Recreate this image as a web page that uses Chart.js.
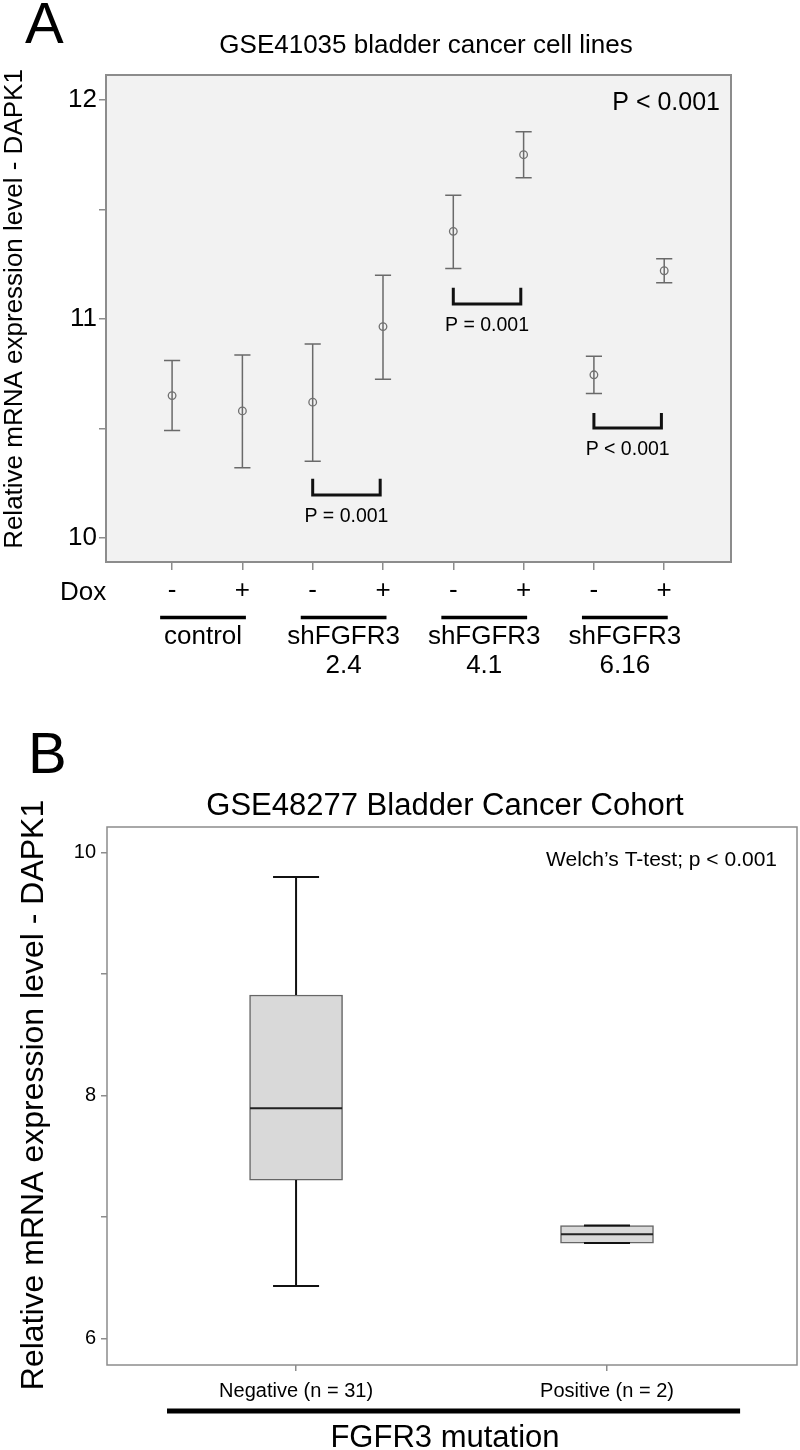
<!DOCTYPE html>
<html>
<head>
<meta charset="utf-8">
<script src="https://cdn.jsdelivr.net/npm/chart.js@4.4.1/dist/chart.umd.min.js"></script>
<style>
  html, body { margin: 0; padding: 0; background: #fff; }
  #wrap { position: relative; width: 800px; height: 1450px; }
  canvas { position: absolute; left: 0; }
  #panelA { top: 0; }
  #panelB { top: 690px; }
</style>
</head>
<body>
<div id="wrap">
  <canvas id="panelA" width="800" height="690"></canvas>
  <canvas id="panelB" width="800" height="760"></canvas>
</div>
<script>
// ---- Panel A: GSE41035 cell lines (mean with error bars) ----
const doxLabels = ['-', '+', '-', '+', '-', '+', '-', '+'];
const groupNames = [['control'], ['shFGFR3', '2.4'], ['shFGFR3', '4.1'], ['shFGFR3', '6.16']];
const meanExpr = [10.65, 10.58, 10.62, 10.965, 11.40, 11.75, 10.745, 11.22];
const upperExpr = [10.81, 10.835, 10.885, 11.20, 11.565, 11.855, 10.83, 11.275];
const lowerExpr = [10.49, 10.32, 10.35, 10.725, 11.23, 11.645, 10.66, 11.165];
const yTickValuesA = [10, 10.5, 11, 11.5, 12];
const yTickLabelsA = ['10', '', '11', '', '12'];
// pairwise comparisons: index of the "-" sample, bracket heights, p values
const pairStart = [2, 4, 6];
const pairTop = [10.27, 11.142, 10.571];
const pairBottom = [10.196, 11.068, 10.502];
const pairP = ['P = 0.001', 'P = 0.001', 'P < 0.001'];

// ---- Panel B: GSE48277 cohort box plot ----
const mutationGroups = ['Negative (n = 31)', 'Positive (n = 2)'];
const boxMin = [6.43, 6.784];
const boxQ1 = [7.303, 6.784];
const boxMedian = [7.896, 6.858];
const boxQ3 = [8.828, 6.929];
const boxMax = [9.80, 6.929];
const yTickValuesB = [6, 7, 8, 9, 10];
const yTickLabelsB = ['6', '', '8', '', '10'];

const FONT = "'Liberation Sans', Arial, Helvetica, sans-serif";
Chart.defaults.font.family = FONT;
Chart.defaults.color = '#000';

function label(ctx, str, x, y, size, align, rotate) {
  ctx.save();
  ctx.font = size + 'px ' + FONT;
  ctx.fillStyle = '#000';
  ctx.textAlign = align || 'left';
  ctx.textBaseline = 'alphabetic';
  ctx.translate(x, y);
  if (rotate) ctx.rotate(-Math.PI / 2);
  ctx.fillText(str, 0, 0);
  ctx.restore();
}

function hline(ctx, x1, x2, y, w) {
  ctx.save();
  ctx.strokeStyle = '#000';
  ctx.lineWidth = w;
  ctx.beginPath();
  ctx.moveTo(x1, y);
  ctx.lineTo(x2, y);
  ctx.stroke();
  ctx.restore();
}

function frame(chart, fill, stroke, w) {
  const { ctx, chartArea: a } = chart;
  ctx.save();
  if (fill) {
    ctx.fillStyle = fill;
    ctx.fillRect(a.left, a.top, a.right - a.left, a.bottom - a.top);
  }
  if (stroke) {
    ctx.strokeStyle = stroke;
    ctx.lineWidth = w;
    ctx.strokeRect(a.left, a.top, a.right - a.left, a.bottom - a.top);
  }
  ctx.restore();
}

// error bars: stem + two caps, gaps between pieces
const capHalf = 0.115;
const errorPts = [];
meanExpr.forEach((m, i) => {
  errorPts.push({ x: i, y: lowerExpr[i] }, { x: i, y: upperExpr[i] }, { x: i, y: null });
  errorPts.push({ x: i - capHalf, y: upperExpr[i] }, { x: i + capHalf, y: upperExpr[i] }, { x: i, y: null });
  errorPts.push({ x: i - capHalf, y: lowerExpr[i] }, { x: i + capHalf, y: lowerExpr[i] }, { x: i, y: null });
});

const bracketPts = [];
pairStart.forEach((s, k) => {
  const e = s + 0.96;
  bracketPts.push({ x: s, y: pairTop[k] }, { x: s, y: pairBottom[k] },
    { x: e, y: pairBottom[k] }, { x: e, y: pairTop[k] }, { x: e, y: null });
});

const panelADecor = {
  id: 'panelADecor',
  beforeDraw(chart) {
    frame(chart, '#f2f2f2', null, 0);
  },
  afterDraw(chart) {
    const { ctx, scales: { x, y } } = chart;
    frame(chart, null, '#8c8c8c', 2);
    label(ctx, 'A', 25, 43, 58, 'left');
    label(ctx, 'GSE41035 bladder cancer cell lines', 426, 53, 26, 'center');
    label(ctx, 'P < 0.001', 720, 110, 25, 'right');
    label(ctx, 'Relative mRNA expression level - DAPK1', 22, 309, 26, 'center', true);
    label(ctx, 'Dox', 60, 600, 26, 'left');
    pairStart.forEach((s, k) => {
      label(ctx, pairP[k], x.getPixelForValue(s + 0.48), y.getPixelForValue(pairBottom[k]) + 27, 19.5, 'center');
    });
    groupNames.forEach((g, k) => {
      const x1 = x.getPixelForValue(2 * k - 0.17);
      const x2 = x.getPixelForValue(2 * k + 1.05);
      hline(ctx, x1, x2, 617.5, 3.5);
      const cx = (x1 + x2) / 2;
      g.forEach((line, j) => label(ctx, line, cx, 644 + j * 29, 26, 'center'));
    });
  }
};

new Chart(document.getElementById('panelA'), {
  type: 'line',
  data: {
    datasets: [
      {
        data: meanExpr.map((v, i) => ({ x: i, y: v })),
        showLine: false,
        pointRadius: 3.8,
        pointBorderWidth: 1.3,
        pointBorderColor: '#707070',
        pointBackgroundColor: 'rgba(0,0,0,0)',
        order: 1
      },
      {
        data: errorPts,
        borderColor: '#6a6a6a',
        borderWidth: 1.5,
        pointRadius: 0,
        spanGaps: false,
        order: 2
      },
      {
        data: bracketPts,
        borderColor: '#111',
        borderWidth: 3,
        borderJoinStyle: 'miter',
        pointRadius: 0,
        spanGaps: false,
        order: 3
      }
    ]
  },
  options: {
    responsive: false,
    animation: false,
    devicePixelRatio: 1,
    layout: { padding: { left: 0, right: 69, top: 75, bottom: 0 } },
    plugins: { legend: { display: false }, tooltip: { enabled: false } },
    scales: {
      x: {
        type: 'linear',
        min: -0.94,
        max: 7.95,
        afterFit: s => { s.height = 128; },
        afterBuildTicks: s => { s.ticks = doxLabels.map((_, i) => ({ value: i })); },
        ticks: { callback: (v, i) => doxLabels[i], font: { size: 26 }, padding: 5, maxRotation: 0, autoSkip: false },
        grid: { drawOnChartArea: false, tickLength: 8, color: '#8c8c8c', lineWidth: 1.5 },
        border: { display: false }
      },
      y: {
        type: 'linear',
        min: 9.89,
        max: 12.114,
        afterFit: s => { s.width = 106; },
        afterBuildTicks: s => { s.ticks = yTickValuesA.map(v => ({ value: v })); },
        ticks: { callback: (v, i) => yTickLabelsA[i], font: { size: 26 }, padding: 2, autoSkip: false },
        grid: { drawOnChartArea: false, tickLength: 7, color: '#8c8c8c', lineWidth: 1.5 },
        border: { display: false }
      }
    }
  },
  plugins: [panelADecor]
});

// ---- Panel B chart ----
const boxHalf = 0.148;
const whiskerHalf = 0.074;
const medianPts = [];
const whiskerPts = [];
mutationGroups.forEach((_, i) => {
  medianPts.push({ x: i - boxHalf, y: boxMedian[i] }, { x: i + boxHalf, y: boxMedian[i] }, { x: i, y: null });
  whiskerPts.push({ x: i, y: boxQ3[i] }, { x: i, y: boxMax[i] }, { x: i, y: null });
  whiskerPts.push({ x: i, y: boxQ1[i] }, { x: i, y: boxMin[i] }, { x: i, y: null });
  whiskerPts.push({ x: i - whiskerHalf, y: boxMax[i] }, { x: i + whiskerHalf, y: boxMax[i] }, { x: i, y: null });
  whiskerPts.push({ x: i - whiskerHalf, y: boxMin[i] }, { x: i + whiskerHalf, y: boxMin[i] }, { x: i, y: null });
});

const panelBDecor = {
  id: 'panelBDecor',
  afterDraw(chart) {
    const { ctx, scales: { x } } = chart;
    frame(chart, null, '#8c8c8c', 1.5);
    label(ctx, 'B', 28, 83, 58, 'left');
    label(ctx, 'GSE48277 Bladder Cancer Cohort', 445, 125, 31, 'center');
    label(ctx, 'Welch\u2019s T-test; p < 0.001', 777, 176, 21, 'right');
    label(ctx, 'Relative mRNA expression level - DAPK1', 43, 405, 32, 'center', true);
    hline(ctx, x.getPixelForValue(-0.415), x.getPixelForValue(1.428), 721, 5);
    label(ctx, 'FGFR3 mutation', 445, 757, 31, 'center');
  }
};

new Chart(document.getElementById('panelB'), {
  type: 'line',
  data: {
    datasets: [
      {
        type: 'bar',
        data: mutationGroups.map((_, i) => ({ x: i, y: [boxQ1[i], boxQ3[i]] })),
        backgroundColor: '#d9d9d9',
        borderColor: '#666',
        borderWidth: 1.5,
        borderSkipped: false,
        barThickness: 93,
        order: 3
      },
      {
        data: whiskerPts,
        borderColor: '#111',
        borderWidth: 2,
        pointRadius: 0,
        spanGaps: false,
        order: 2
      },
      {
        data: medianPts,
        borderColor: '#222',
        borderWidth: 2,
        pointRadius: 0,
        spanGaps: false,
        order: 1
      }
    ]
  },
  options: {
    responsive: false,
    animation: false,
    devicePixelRatio: 1,
    layout: { padding: { left: 0, right: 3, top: 137, bottom: 0 } },
    plugins: { legend: { display: false }, tooltip: { enabled: false } },
    scales: {
      x: {
        type: 'linear',
        offset: false,
        min: -0.608,
        max: 1.611,
        afterFit: s => { s.height = 85; },
        afterBuildTicks: s => { s.ticks = mutationGroups.map((_, i) => ({ value: i })); },
        ticks: { callback: (v, i) => mutationGroups[i], font: { size: 20 }, padding: 8, maxRotation: 0, autoSkip: false },
        grid: { drawOnChartArea: false, tickLength: 6, color: '#8c8c8c', lineWidth: 1.5, offset: false },
        border: { display: false }
      },
      y: {
        type: 'linear',
        min: 5.78,
        max: 10.212,
        afterFit: s => { s.width = 107; },
        afterBuildTicks: s => { s.ticks = yTickValuesB.map(v => ({ value: v })); },
        ticks: { callback: (v, i) => yTickLabelsB[i], font: { size: 20 }, padding: 5, autoSkip: false },
        grid: { drawOnChartArea: false, tickLength: 6, color: '#8c8c8c', lineWidth: 1.5 },
        border: { display: false }
      }
    }
  },
  plugins: [panelBDecor]
});
</script>
</body>
</html>
